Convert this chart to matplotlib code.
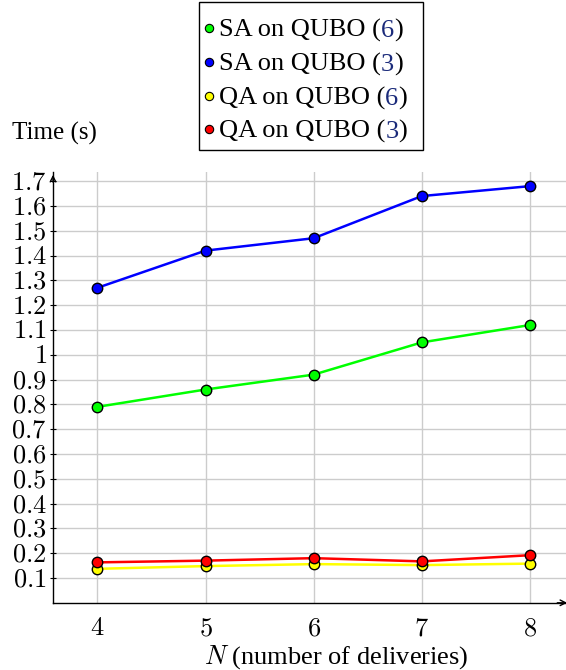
import matplotlib
matplotlib.use("Agg")
import matplotlib.pyplot as plt
from matplotlib.patches import Rectangle
from matplotlib.lines import Line2D
from matplotlib.text import Annotation

plt.rcParams['font.family'] = ['Liberation Serif', 'DejaVu Serif']
plt.rcParams['mathtext.fontset'] = 'cm'

# Data
n_values = [4, 5, 6, 7, 8]
sa_qubo6 = [0.79, 0.86, 0.92, 1.05, 1.12]
sa_qubo3 = [1.27, 1.42, 1.47, 1.64, 1.68]
qa_qubo6 = [0.137, 0.148, 0.156, 0.152, 0.158]
qa_qubo3 = [0.163, 0.170, 0.180, 0.167, 0.192]
y_ticks = [0.1, 0.2, 0.3, 0.4, 0.5, 0.6, 0.7, 0.8, 0.9, 1.0, 1.1, 1.2, 1.3, 1.4, 1.5, 1.6, 1.7]
y_tick_labels = ['0.1', '0.2', '0.3', '0.4', '0.5', '0.6', '0.7', '0.8', '0.9', '1',
                 '1.1', '1.2', '1.3', '1.4', '1.5', '1.6', '1.7']
series = [
    ("SA on QUBO (", "6", ")", sa_qubo6, '#00ff00'),
    ("SA on QUBO (", "3", ")", sa_qubo3, '#0000ff'),
    ("QA on QUBO (", "6", ")", qa_qubo6, '#ffff00'),
    ("QA on QUBO (", "3", ")", qa_qubo3, '#ff0000'),
]

W, H = 566, 670
fig = plt.figure(figsize=(W / 100, H / 100), dpi=100)
ax = fig.add_axes([53 / W, 1 - 602.8 / H, (570 - 53) / W, (602.8 - 172) / H])

for pre, num, post, vals, col in series:
    ax.plot(n_values, vals, color=col, lw=1.8, marker='o', ms=7.5,
            markerfacecolor=col, markeredgecolor='black', markeredgewidth=1.0, zorder=3)

ax.set_xlim(3.59, 8.37)
ax.set_ylim(0, 1.737)
for s in ['top', 'right']:
    ax.spines[s].set_visible(False)
for s in ['left', 'bottom']:
    ax.spines[s].set_linewidth(1.0)
    ax.spines[s].set_color('black')
ax.set_xticks(n_values)
ax.set_xticklabels([f'${v}$' for v in n_values])
ax.set_yticks(y_ticks)
ax.set_yticklabels([f'${t}$' for t in y_tick_labels])
ax.tick_params(axis='y', direction='inout', length=5, width=0.8, pad=2, labelsize=19)
ax.tick_params(axis='x', direction='inout', length=0, width=0.8, pad=11, labelsize=19)
ax.grid(True, color='#cccccc', lw=1.0, zorder=0)

# arrows on axes
ax.annotate('', xy=(0, 1.0), xytext=(0, 0.97), xycoords='axes fraction',
            arrowprops=dict(arrowstyle='->', color='black', lw=1.0), annotation_clip=False)
ax.annotate('', xy=(1.0, 0), xytext=(0.97, 0), xycoords='axes fraction',
            arrowprops=dict(arrowstyle='->', color='black', lw=1.0), annotation_clip=False)

fig.text(336 / W, 1 - 657 / H, r'$N$ (number of deliveries)', fontsize=19,
         ha='center', va='center')
fig.text(12 / W, 1 - 133 / H, 'Time (s)', fontsize=18, va='center', ha='left')

# Legend (drawn manually to colour the reference numbers)
lx0, ly0, lx1, ly1 = 199, 2, 423, 150
fig.patches.append(Rectangle((lx0 / W, 1 - ly1 / H), (lx1 - lx0) / W, (ly1 - ly0) / H,
                             transform=fig.transFigure, fill=True, facecolor='white',
                             edgecolor='black', lw=1.0, zorder=5))
rows_y = [28, 62, 96, 129]
for (pre, num, post, vals, col), ry in zip(series, rows_y):
    fig.lines.append(Line2D([209 / W], [1 - ry / H], transform=fig.transFigure,
                            marker='o', ms=6, markerfacecolor=col,
                            markeredgecolor='black', markeredgewidth=0.8, zorder=6))
    t1 = fig.text(219 / W, 1 - ry / H, pre, fontsize=19, va='center_baseline',
                  ha='left', zorder=6)
    a2 = Annotation(num, xy=(1, 0), xycoords=t1, va='bottom', ha='left',
                    fontsize=19, color='#1a2a7a', zorder=7)
    fig.add_artist(a2)
    a3 = Annotation(post, xy=(1, 0), xycoords=a2, va='bottom', ha='left',
                    fontsize=19, zorder=7)
    fig.add_artist(a3)

fig.savefig('out.png', dpi=100)
